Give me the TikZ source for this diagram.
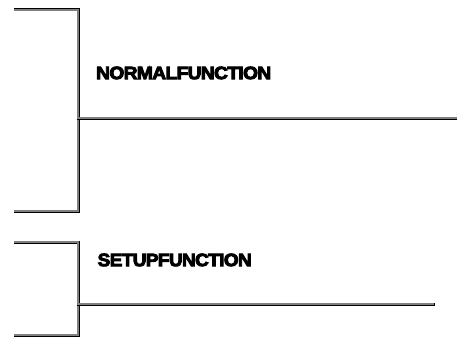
\documentclass[tikz,border=0pt]{standalone}
\usepackage{fontspec}
\usepackage{graphicx}
\newfontfamily\labelfont{Liberation Sans Bold}[FakeBold=5,LetterSpace=-3]
\begin{document}
\begin{tikzpicture}[x=1pt,y=-1pt,
  rung/.style={draw=black,line width=0.9pt,double=black!50,double distance=1.2pt,line cap=rect},
  fname/.style={font=\labelfont\fontsize{22}{25}\selectfont,anchor=south west,inner sep=0pt}]
\useasboundingbox (0,0) rectangle (457,337);
% first block
\coordinate (a1) at (15,10);
\coordinate (a2) at (78,10);
\coordinate (a3) at (78,211);
\coordinate (a4) at (15,211);
\coordinate (am) at (78,118);
\coordinate (ae) at (457,118);
\draw[rung] (a1) -- (a2) -- (a3) -- (a4);
\draw[rung] (am) -- (ae);
\node[fname] (n1) at (96,79.5) {\resizebox{175pt}{12.5pt}{NORMALFUNCTION}};
% second block
\coordinate (b1) at (15,242);
\coordinate (b2) at (78,242);
\coordinate (b3) at (78,335);
\coordinate (b4) at (15,335);
\coordinate (bm) at (78,304);
\coordinate (be) at (433,304);
\draw[rung] (b1) -- (b2) -- (b3) -- (b4);
\draw[rung] (bm) -- (be);
\node[fname] (n2) at (97.5,266.5) {\resizebox{154pt}{12.5pt}{SETUPFUNCTION}};
\end{tikzpicture}
\end{document}
